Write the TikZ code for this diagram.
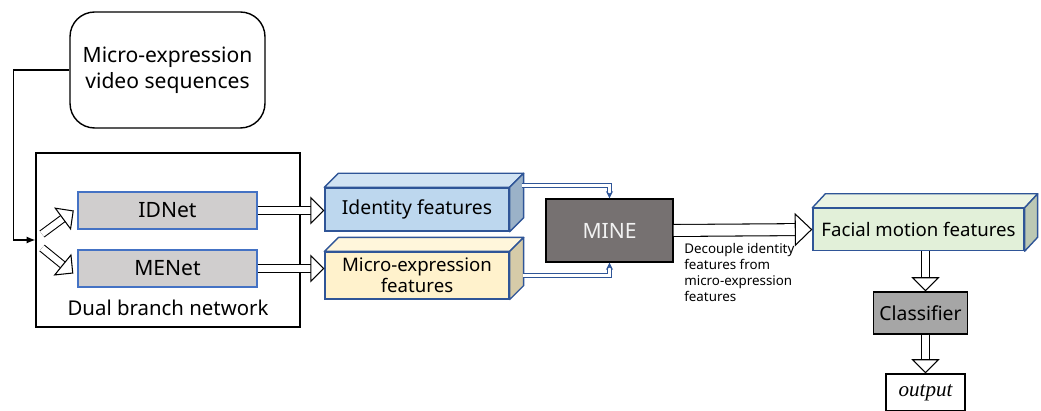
\documentclass[tikz,border=0pt]{standalone}
\usepackage{fontspec}
\setmainfont{Noto Sans}
\newfontfamily\outfont{Liberation Serif}
\usetikzlibrary{arrows.meta,positioning}

\definecolor{idgray}{HTML}{D0CECE}
\definecolor{netblue}{HTML}{4472C4}
\definecolor{cubeblue}{HTML}{2F5597}
\definecolor{idfill}{HTML}{BDD7EE}
\definecolor{idside}{HTML}{9BB2C8}
\definecolor{mefill}{HTML}{FFF2CC}
\definecolor{meside}{HTML}{D6CBA8}
\definecolor{fmfill}{HTML}{E2F0D9}
\definecolor{fmside}{HTML}{BCC8B4}
\definecolor{minegray}{HTML}{767171}
\definecolor{clsgray}{HTML}{A6A6A6}

\begin{document}
\begin{tikzpicture}[
    x=0.02cm, y=-0.02cm,
    videobox/.style={rectangle, rounded corners=14pt, draw=black, line width=0.8pt, minimum width=3.9cm, minimum height=2.32cm, align=center, font=\fontsize{12}{15}\selectfont},
    netbox/.style={rectangle, draw=netblue, line width=0.8pt, fill=idgray, minimum width=3.58cm, minimum height=0.74cm, font=\fontsize{12}{14}\selectfont},
    featbox/.style={rectangle, draw=cubeblue, line width=0.8pt, minimum width=3.68cm, minimum height=0.86cm, align=center, font=\fontsize{10.6}{12}\selectfont},
    graybox/.style={rectangle, draw=black, line width=0.8pt, font=\fontsize{12}{14}\selectfont},
    face/.style={draw=cubeblue, line width=0.8pt, line join=round},
    line/.style={line width=0.6pt, -{Latex[length=5pt, width=4pt]}},
    twin/.style={draw=cubeblue, double=white, double distance=1.6pt, line width=0.7pt, -{Stealth[length=4pt, width=4pt]}},
    hollow/.style={draw=black, double=white, double distance=3.6pt, line width=0.6pt, -{Triangle[open, length=8pt, width=16pt]}},
    bighollow/.style={draw=black, double=white, double distance=6.2pt, line width=0.6pt, -{Triangle[open, length=10pt, width=19pt]}}
]
\useasboundingbox (0,0) rectangle (1041,411);

% Input
\node[videobox] (video) at (167.5,70) {Micro-expression\\video sequences};

% Dual branch network
\node[rectangle, draw=black, line width=0.8pt, minimum width=5.28cm, minimum height=3.48cm] (dual) at (168,240) {};
\node[font=\fontsize{11.6}{14}\selectfont] (duallabel) at (168,308) {Dual branch network};
\node[netbox] (idnet) at (167.5,210.5) {IDNet};
\node[netbox] (menet) at (167.5,268.5) {MENet};
\coordinate (split) at (40,241);

% Feature cuboids
\node[featbox, fill=idfill, font=\fontsize{11}{12}\selectfont] (identity) at (417,209.5) {Identity features};
\node[featbox, fill=mefill] (micro) at (417,275.5) {Micro-expression\\features};
\node[featbox, fill=fmfill, minimum width=4.22cm, minimum height=0.84cm] (facial) at (918.5,229.5) {Facial motion features};

\draw[face, fill=idfill!70!white] (identity.north west) -- ++(14,-14) -- ([shift={(14,-14)}]identity.north east) -- (identity.north east) -- cycle;
\draw[face, fill=idside] (identity.north east) -- ++(14,-14) -- ([shift={(14,-14)}]identity.south east) -- (identity.south east) -- cycle;
\draw[face, fill=mefill!70!white] (micro.north west) -- ++(14,-14) -- ([shift={(14,-14)}]micro.north east) -- (micro.north east) -- cycle;
\draw[face, fill=meside] (micro.north east) -- ++(14,-14) -- ([shift={(14,-14)}]micro.south east) -- (micro.south east) -- cycle;
\draw[face, fill=fmfill!70!white] (facial.north west) -- ++(13,-14) -- ([shift={(13,-14)}]facial.north east) -- (facial.north east) -- cycle;
\draw[face, fill=fmside] (facial.north east) -- ++(13,-14) -- ([shift={(13,-14)}]facial.south east) -- (facial.south east) -- cycle;

% MINE and classifier
\node[graybox, fill=minegray, text=white!95!black, minimum width=2.54cm, minimum height=1.26cm] (mine) at (609.5,230.5) {MINE};
\node[graybox, fill=clsgray, minimum width=1.86cm, minimum height=0.84cm, font=\fontsize{11}{13}\selectfont] (classifier) at (920.5,313) {Classifier};
\node[rectangle, draw=black, line width=0.8pt, minimum width=1.58cm, minimum height=0.74cm, font=\outfont\itshape\fontsize{12}{14}\selectfont] (output) at (925.5,392.5) {output};

\node[anchor=north west, align=left, font=\fontsize{7.6}{9.2}\selectfont, inner sep=0pt] (decouple) at (684,243) {Decouple identity\\features from\\micro-expression\\features};

% Arrows
\draw[line] (video.west) -- ++(-56,0) |- (dual.west);
\draw[hollow] ([shift={(2,-7)}]split) -- ([xshift=-2pt]idnet.west);
\draw[hollow] ([shift={(2,7)}]split) -- ([shift={(-4,5)}]menet.west);
\draw[hollow] (idnet.east) -- (idnet.east -| identity.west);
\draw[hollow] (menet.east) -- (menet.east -| micro.west);
\draw[twin] ([shift={(12,-2)}]identity.north east) -| (mine.north);
\draw[twin] ([shift={(13,-24)}]micro.south east) -| (mine.south);
\draw[bighollow] (mine.east) -- (facial.west);
\draw[hollow] (output.north |- facial.south) -- (output.north |- classifier.north);
\draw[hollow] (output.north |- classifier.south) -- (output.north);

\end{tikzpicture}
\end{document}
